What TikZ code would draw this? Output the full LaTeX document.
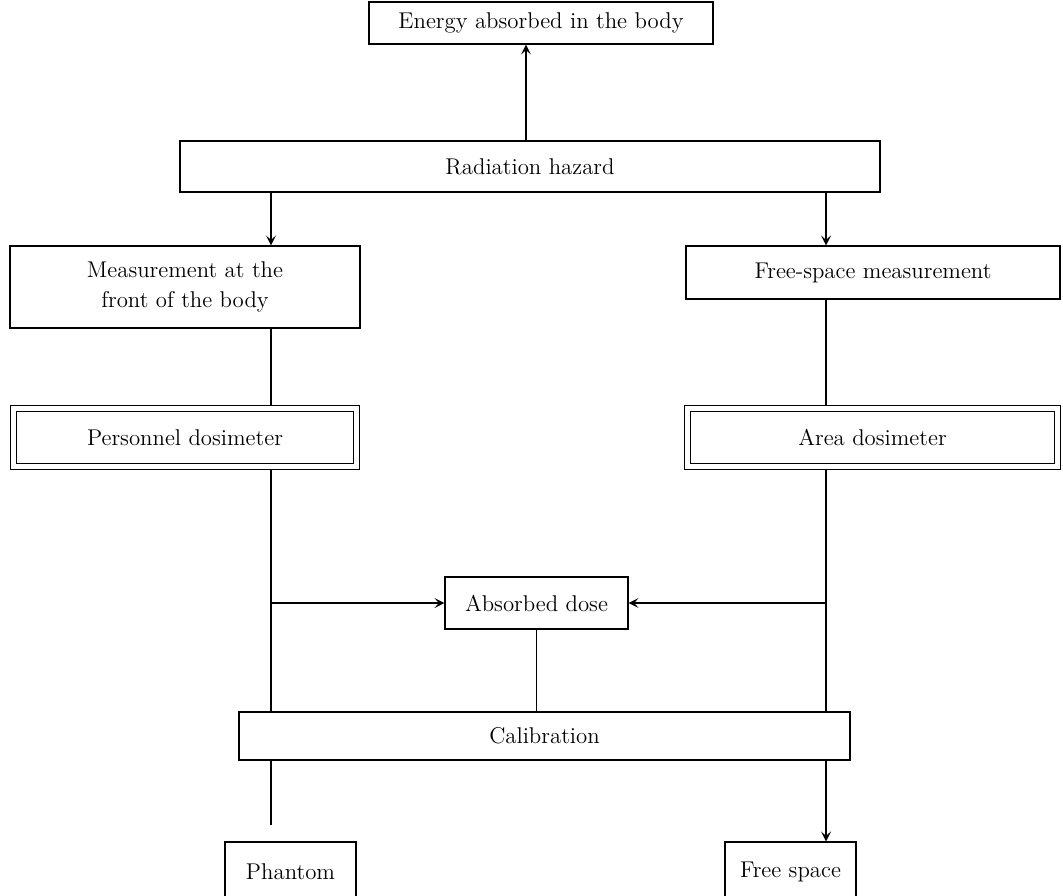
\documentclass[tikz,border=0pt]{standalone}
\usetikzlibrary{arrows.meta}

\begin{document}
\begin{tikzpicture}[
                > = {Stealth[length = 5pt, width = 5pt, inset = 2.2pt]}, % arrow head style
                x = 0.5pt, y = -0.5pt, % one unit is one pixel of the page
                line width = 0.55pt % line style
            ]

            \tikzstyle{every node}=[draw = black, rectangle, inner sep = 2pt,
            align = center, font = \fontsize{11.4}{15}\selectfont]
            \tikzstyle{dbl}=[double, double distance = 2.4pt]

            \useasboundingbox (0,0) rectangle (1063,895);
            \clip (0,0) rectangle (1063,895);

            % lanes of the connectors
            \coordinate (lx) at (271,0); \coordinate (rx) at (826,0);
            \coordinate (ux) at (526,0); \coordinate (lend) at (271,825);

            \node (energy) [minimum width = 172pt, minimum height = 21pt] at
            (541,23) {Energy absorbed in the body}; \node (hazard) [minimum
            width = 350pt, minimum height = 25.5pt] at (530,166.5) {Radiation
            hazard}; \node (meas) [minimum width = 175pt, minimum height =
            41pt] at (185,287) {Measurement at the\\front of the body}; \node
            (free) [minimum width = 187pt, minimum height = 26.5pt] at
            (873,272.5) {Free-space measurement}; \node (pers) [dbl, minimum
            width = 171.5pt, minimum height = 29pt] at (185,437.5) {Personnel
            dosimeter}; \node (area) [dbl, minimum width = 185pt, minimum
            height = 29pt] at (872.5,437.5) {Area dosimeter}; \node (dose)
            [minimum width = 91.5pt, minimum height = 26pt] at (536.5,603)
            {Absorbed dose}; \node (calib) [minimum width = 305.5pt, minimum
            height = 24pt] at (544.5,736) {Calibration}; \node (phantom)
            [minimum width = 65.5pt, minimum height = 30pt] at (290.5,872)
            {Phantom}; \node (freesp) [minimum width = 65.5pt, minimum height
            = 30pt] at (790.5,872) {Free space};

            \draw[->] (hazard.north -| ux) -- (energy.south -| ux);
            \draw[->] (hazard.south -| lx) -- (meas.north -| lx);
            \draw[->] (hazard.south -| rx) -- (free.north -| rx);
            \draw[shorten >= 1.5pt] (meas.south -| lx) -- (pers.north -| lx);
            \draw[shorten >= 1.5pt] (free.south -| rx) -- (area.north -| rx);
            \draw[shorten <= 1.5pt] (pers.south -| lx) -- (calib.north -| lx);
            \draw[shorten <= 1.5pt] (area.south -| rx) -- (calib.north -| rx);
            \draw[->] (dose.west -| lx) -- (dose.west);
            \draw[->] (dose.east -| rx) -- (dose.east);
            \draw (dose.south) -- (dose.south |- calib.north);
            \draw (calib.south -| lx) -- (lend);
            \draw[->] (calib.south -| rx) -- (freesp.north -| rx);

        \end{tikzpicture}
\end{document}
